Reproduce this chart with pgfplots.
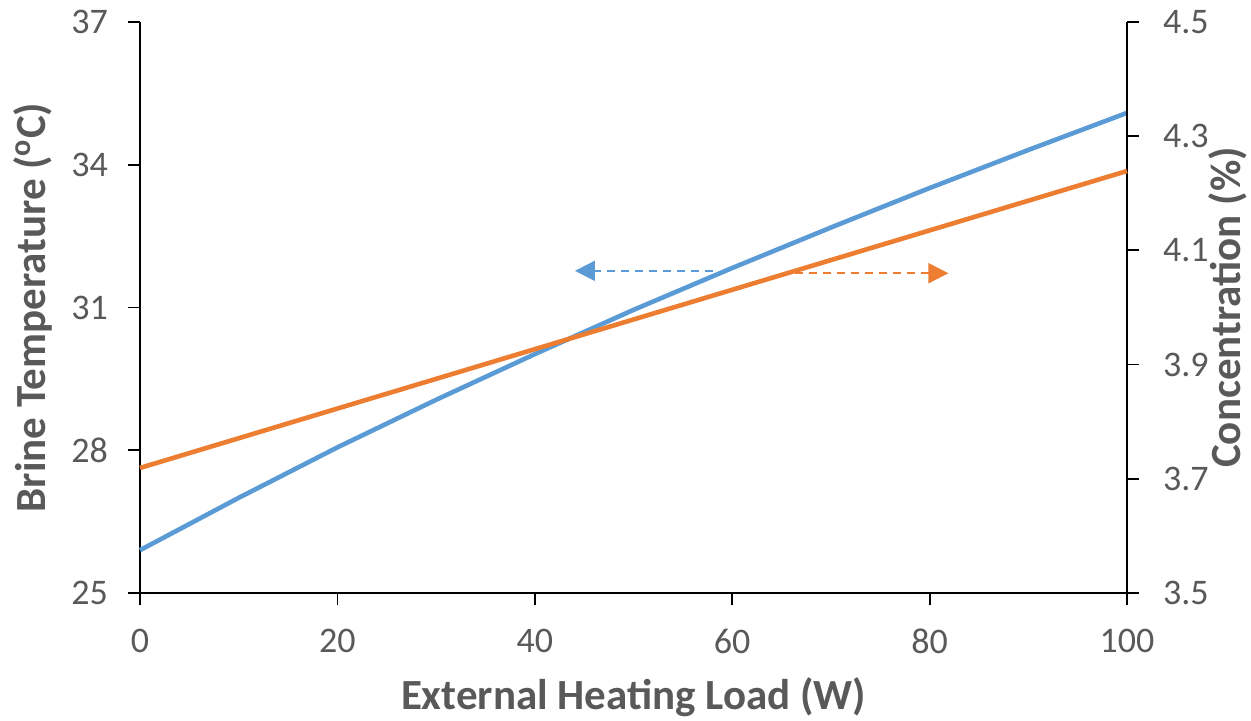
\documentclass[border=0pt]{standalone}
\usepackage{pgfplots}
\pgfplotsset{compat=1.18}
\usepackage{fontspec}
\setmainfont{Carlito}
\usetikzlibrary{arrows.meta}
\definecolor{cblue}{HTML}{5B9BD5}
\definecolor{corange}{HTML}{ED7D31}
\definecolor{tgray}{HTML}{595959}

\begin{document}
\begin{tikzpicture}
\pgfplotsset{
 base/.style={scale only axis, width=493.5pt, height=285.5pt, xmin=0, xmax=100,
   tick align=outside, major tick length=6pt,
   tick style={black, line width=0.9pt},
   axis line style={black, line width=1pt},
   tick label style={font=\fontsize{18}{21}\selectfont, color=tgray},
   label style={font=\bfseries\fontsize{21.5}{25}\selectfont, color=tgray},
   /pgf/number format/assume math mode=true, clip=false}
}
\begin{axis}[base, axis x line*=bottom, axis y line*=left,
  ymin=25, ymax=37, ytick={25,28,31,34,37}, xtick={0,20,...,100},
  xticklabel shift=8.5pt, yticklabel shift=6.5pt,
  xlabel={External Heating Load (W)},
  ylabel={Brine Temperature (\textsuperscript{o}C)},
  xlabel style={at={(axis description cs:0.5,-0.1830)}, anchor=center},
  ylabel style={at={(axis description cs:-0.1084,0.5)}, anchor=center, rotate=0}]
\addplot[cblue, line width=2.3pt] coordinates {
 (0,25.90) (10,27.00) (20,28.06) (30,29.06) (40,30.02) (50,30.95)
 (60,31.83) (70,32.68) (80,33.51) (90,34.31) (100,35.09)};
\draw[cblue, line width=1pt, dash pattern=on 4pt off 3pt, -{Triangle[length=10pt, width=10pt]}] (axis cs:58.05,31.77) -- (axis cs:44.07,31.77);
\coordinate (SW) at (rel axis cs:0,0);
\coordinate (NE) at (rel axis cs:1,1);
\end{axis}
\begin{axis}[base, axis x line=none, axis y line*=right,
  ymin=3.5, ymax=4.5, ytick={3.5,3.7,...,4.5}, yticklabel shift=8.5pt,
  yticklabel style={/pgf/number format/.cd, fixed, fixed zerofill, precision=1},
  ylabel={Concentration (\%)},
  ylabel style={at={(axis description cs:1.1023,0.5)}, anchor=center, rotate=0}]
\addplot[corange, line width=2.3pt] coordinates {
 (0,3.719) (10,3.771) (20,3.823) (30,3.875) (40,3.927) (50,3.979)
 (60,4.031) (70,4.083) (80,4.135) (90,4.187) (100,4.239)};
\draw[corange, line width=1pt, dash pattern=on 4pt off 3pt, -{Triangle[length=10pt, width=10pt]}] (axis cs:66.4,4.06) -- (axis cs:81.9,4.06);
\end{axis}
\pgfresetboundingbox
\path ([shift={(-70pt,-64pt)}]SW) rectangle ([shift={(62pt,11pt)}]NE);
\end{tikzpicture}
\end{document}
